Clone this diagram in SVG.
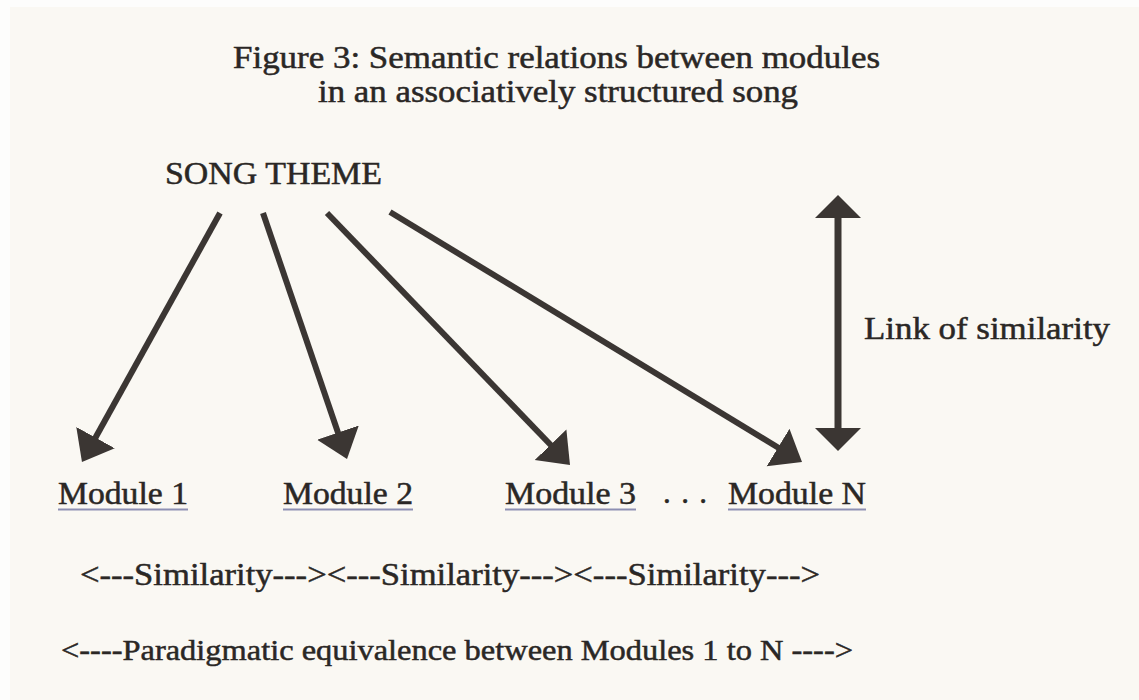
<svg xmlns="http://www.w3.org/2000/svg" width="1139" height="700" viewBox="0 0 1139 700">
  <style>
    .t { font-family: "Liberation Serif", "Times New Roman", serif; fill: #2a2725; stroke: #2a2725; stroke-width: 0.5; }
    .conn { stroke: #3b3633; fill: none; stroke-linecap: butt; }
    .ul { stroke: #8d8fb3; stroke-width: 2; }
  </style>
  <defs>
    <marker id="ah" markerUnits="userSpaceOnUse" markerWidth="30" markerHeight="48" viewBox="0 -24 30 48" refX="10" refY="0" orient="auto">
      <path d="M0,-22 L28,0 L0,22 Z" fill="#3b3633"/>
    </marker>
    <marker id="ah2" markerUnits="userSpaceOnUse" markerWidth="26" markerHeight="50" viewBox="0 -25 26 50" refX="10" refY="0" orient="auto-start-reverse">
      <path d="M0,-23 L23,0 L0,23 Z" fill="#3b3633"/>
    </marker>
  </defs>

  <rect x="0" y="0" width="1139" height="700" fill="#fdfdfc"/>
  <rect x="10" y="7" width="1129" height="693" fill="#faf8f3"/>

  <g id="title">
    <text class="t" x="233" y="68" font-size="31" textLength="647" lengthAdjust="spacingAndGlyphs">Figure 3: Semantic relations between modules</text>
    <text class="t" x="318" y="102" font-size="31" textLength="480" lengthAdjust="spacingAndGlyphs">in an associatively structured song</text>
  </g>

  <g id="song-theme">
    <text class="t" x="165" y="184" font-size="31" textLength="217" lengthAdjust="spacingAndGlyphs">SONG THEME</text>
  </g>

  <g id="module-1">
    <text class="t" x="58" y="504" font-size="31" textLength="130" lengthAdjust="spacingAndGlyphs">Module 1</text>
    <line class="ul" x1="58" y1="509.5" x2="188" y2="509.5"/>
  </g>
  <g id="module-2">
    <text class="t" x="283" y="504" font-size="31" textLength="130" lengthAdjust="spacingAndGlyphs">Module 2</text>
    <line class="ul" x1="283" y1="509.5" x2="413" y2="509.5"/>
  </g>
  <g id="module-3">
    <text class="t" x="505" y="504" font-size="31" textLength="131" lengthAdjust="spacingAndGlyphs">Module 3</text>
    <line class="ul" x1="505" y1="509.5" x2="636" y2="509.5"/>
  </g>
  <g id="ellipsis">
    <text class="t" x="663" y="503" font-size="31" textLength="44" lengthAdjust="spacing">. . .</text>
  </g>
  <g id="module-n">
    <text class="t" x="728" y="504" font-size="31" textLength="138" lengthAdjust="spacingAndGlyphs">Module N</text>
    <line class="ul" x1="728" y1="509.5" x2="866" y2="509.5"/>
  </g>

  <g id="link-label">
    <text class="t" x="864" y="339" font-size="32" textLength="246" lengthAdjust="spacingAndGlyphs">Link of similarity</text>
  </g>

  <g id="similarity-row">
    <text class="t" x="80" y="585" font-size="31" textLength="740" lengthAdjust="spacingAndGlyphs">&lt;---Similarity---&gt;&lt;---Similarity---&gt;&lt;---Similarity---&gt;</text>
  </g>

  <g id="paradigmatic-row">
    <text class="t" x="61" y="660" font-size="30" textLength="792" lengthAdjust="spacingAndGlyphs">&lt;----Paradigmatic equivalence between Modules 1 to N ----&gt;</text>
  </g>

  <g id="connectors">
    <line class="conn" stroke-width="6" x1="220" y1="213" x2="90.7" y2="446.3" marker-end="url(#ah)"/>
    <line class="conn" stroke-width="6" x1="263" y1="213" x2="341.2" y2="442" marker-end="url(#ah)"/>
    <line class="conn" stroke-width="6" x1="327" y1="213" x2="557.5" y2="452" marker-end="url(#ah)"/>
    <line class="conn" stroke-width="6" x1="390" y1="212" x2="786.6" y2="452.7" marker-end="url(#ah)"/>
    <line class="conn" stroke-width="7" x1="838" y1="208" x2="838" y2="438" marker-start="url(#ah2)" marker-end="url(#ah2)"/>
  </g>
</svg>
